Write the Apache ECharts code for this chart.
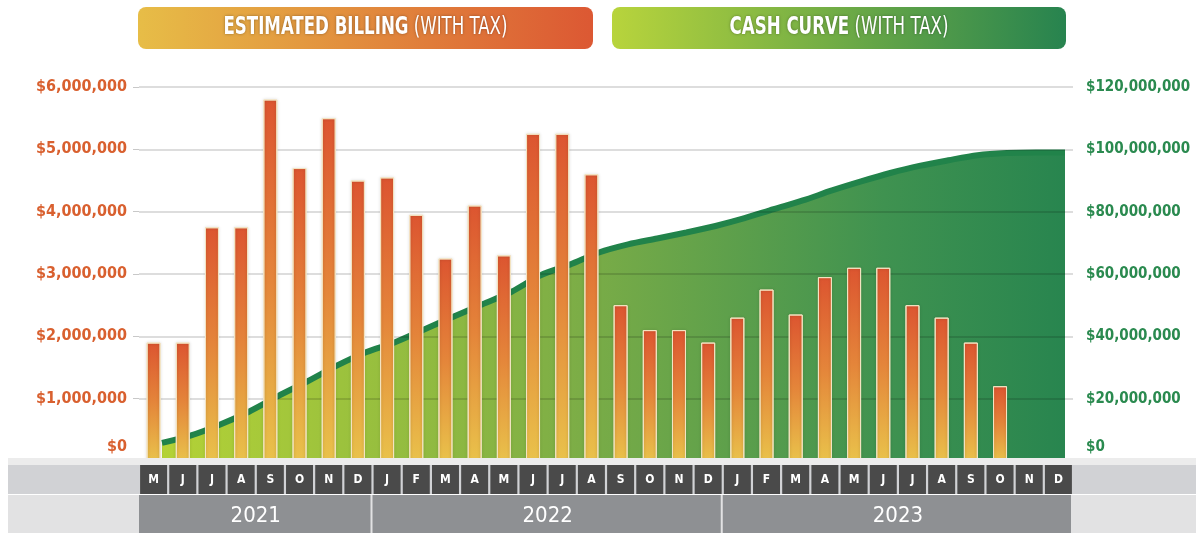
<!DOCTYPE html>
<html>
<head>
<meta charset="utf-8">
<title>Estimated billing and cash curve</title>
<script src="https://cdn.jsdelivr.net/npm/echarts@6/dist/echarts.min.js"></script>
<style>
html, body { margin: 0; padding: 0; background: #fff; }
#chart { width: 1196px; height: 533px; }
</style>
</head>
<body>
<div id="chart"></div>
<script>
// month letters, May 2021 .. Dec 2023
var months = ['M', 'J', 'J', 'A', 'S', 'O', 'N', 'D',
  'J', 'F', 'M', 'A', 'M', 'J', 'J', 'A', 'S', 'O', 'N', 'D',
  'J', 'F', 'M', 'A', 'M', 'J', 'J', 'A', 'S', 'O', 'N', 'D'];
var years = ['2021', '2022', '2023'];
var monthsInYear = [8, 12, 12];

// estimated billing (with tax), $
var billing = [1900000, 1900000, 3750000, 3750000, 5800000, 4700000, 5500000, 4500000,
  4550000, 3950000, 3250000, 4100000, 3300000, 5250000, 5250000, 4600000, 2500000, 2100000, 2100000, 1900000,
  2300000, 2750000, 2350000, 2950000, 3100000, 3100000, 2500000, 2300000, 1900000, 1200000, null, null];

// cash curve (with tax), cumulative $
var cash = [5800000, 8200000, 11700000, 15900000, 20900000, 25600000, 30600000, 34900000,
  38100000, 42200000, 46300000, 50300000, 54300000, 59600000, 63000000, 66900000, 69500000, 71400000, 73300000, 75400000,
  77900000, 80800000, 83600000, 86800000, 89700000, 92400000, 94700000, 96500000, 98100000, 98800000, 99000000, 99000000];

var billingMax = 6000000, billingStep = 1000000;
var cashMax = 120000000, cashStep = 20000000;

var FONT = '"DejaVu Sans Condensed", "Liberation Sans Narrow", "Roboto", sans-serif';
var ORANGE = '#d9602f', GREEN = '#2a8a4f';

var mychart = echarts.init(document.getElementById('chart'));

function money(v) {
  return '$' + echarts.format.addCommas(v);
}

var option = {
  animation: false,
  grid: [
    { left: 139, right: 123, top: 87, bottom: 72 },
    { left: 162, right: 131, top: 87, bottom: 72 }
  ],
  xAxis: [
    {
      type: 'category',
      gridIndex: 0,
      data: months,
      z: 5,
      axisLine: { show: false },
      axisTick: { show: false },
      axisLabel: {
        interval: 0,
        margin: 4,
        width: 27,
        height: 29,
        lineHeight: 29,
        align: 'center',
        backgroundColor: '#4a4a4a',
        color: '#fff',
        fontFamily: FONT,
        fontWeight: 'bold',
        fontSize: 12
      }
    },
    {
      type: 'category',
      gridIndex: 1,
      data: months,
      boundaryGap: false,
      show: false
    }
  ],
  yAxis: [
    {
      type: 'value',
      gridIndex: 0,
      position: 'left',
      min: 0,
      max: billingMax,
      interval: billingStep,
      z: 2,
      axisLine: { show: false },
      axisTick: { show: true, length: 6, lineStyle: { color: '#c8c8c8' } },
      splitLine: { lineStyle: { color: 'rgba(0,0,0,0.18)', width: 1.5 } },
      axisLabel: {
        margin: 12,
        color: ORANGE,
        fontFamily: FONT,
        fontWeight: 'bold',
        fontSize: 16,
        formatter: function (v) {
          return v === 0 ? '{z|$0}' : money(v);
        },
        rich: {
          z: { padding: [0, 0, 28, 0], color: ORANGE, fontFamily: FONT, fontWeight: 'bold', fontSize: 16 }
        }
      }
    },
    {
      type: 'value',
      gridIndex: 0,
      position: 'right',
      min: 0,
      max: cashMax,
      interval: cashStep,
      axisLine: { show: false },
      axisTick: { show: false },
      splitLine: { show: false },
      axisLabel: {
        margin: 13,
        color: GREEN,
        fontFamily: FONT,
        fontWeight: 'bold',
        fontSize: 15,
        formatter: function (v) {
          return v === 0 ? '{z|$0}' : money(v);
        },
        rich: {
          z: { padding: [0, 0, 28, 0], color: GREEN, fontFamily: FONT, fontWeight: 'bold', fontSize: 15 }
        }
      }
    },
    {
      type: 'value',
      gridIndex: 1,
      min: 0,
      max: cashMax,
      show: false
    }
  ],
  series: [
    {
      name: 'Cash curve (with tax)',
      type: 'line',
      xAxisIndex: 1,
      yAxisIndex: 2,
      data: cash,
      smooth: 0.3,
      symbol: 'none',
      z: 1,
      lineStyle: { width: 6, color: '#21834a' },
      areaStyle: {
        opacity: 1,
        color: new echarts.graphic.LinearGradient(0, 0, 1, 0, [
          { offset: 0, color: '#b4d236' },
          { offset: 0.45, color: '#7eae46' },
          { offset: 0.8, color: '#3f9250' },
          { offset: 1, color: '#28854f' }
        ])
      }
    },
    {
      name: 'Estimated billing (with tax)',
      type: 'bar',
      xAxisIndex: 0,
      yAxisIndex: 0,
      data: billing,
      barWidth: 14,
      z: 3,
      itemStyle: {
        borderColor: '#f4e4c2',
        borderWidth: 1,
        shadowColor: 'rgba(0,0,0,0.18)',
        shadowBlur: 3,
        color: new echarts.graphic.LinearGradient(0, 0, 0, 1, [
          { offset: 0, color: '#dc5530' },
          { offset: 0.5, color: '#e4853a' },
          { offset: 1, color: '#e9c24b' }
        ])
      }
    }
  ]
};
mychart.setOption(option);

// header banners + year strip, placed from the category axis
var ctx = document.createElement('canvas').getContext('2d');
function textW(t, font) {
  ctx.font = font;
  return ctx.measureText(t).width;
}
function banner(x, w, c0, c1, bold, rest, textWidth) {
  var fb = 'bold 24px ' + FONT, fr = '24px ' + FONT;
  var natural = textW(bold, fb) + textW(' ' + rest, fr);
  return [
    {
      type: 'rect',
      shape: { x: x, y: 7, width: w, height: 42, r: 8 },
      style: {
        fill: new echarts.graphic.LinearGradient(0, 0, 1, 0, [
          { offset: 0, color: c0 },
          { offset: 1, color: c1 }
        ])
      },
      z: 10
    },
    {
      type: 'text',
      x: x + w / 2,
      y: 28,
      scaleX: textWidth / natural,
      z: 11,
      style: {
        text: '{b|' + bold + '}{r| ' + rest + '}',
        x: 0,
        y: 0,
        align: 'center',
        verticalAlign: 'middle',
        fill: '#fff',
        textShadowColor: 'rgba(0,0,0,0.35)',
        textShadowBlur: 3,
        rich: {
          b: { fontFamily: FONT, fontWeight: 'bold', fontSize: 24, fill: '#fff' },
          r: { fontFamily: FONT, fontWeight: 'normal', fontSize: 24, fill: '#fff' }
        }
      }
    }
  ];
}

var x0 = mychart.convertToPixel({ xAxisIndex: 0 }, 0);
var band = mychart.convertToPixel({ xAxisIndex: 0 }, 1) - x0;
var graphics = [
  { type: 'rect', shape: { x: 8, y: 458, width: 1188, height: 7 }, style: { fill: '#ececec' }, z: 10 },
  { type: 'rect', shape: { x: 8, y: 465, width: 1188, height: 29 }, style: { fill: '#d1d2d5' }, z: 1 },
  { type: 'rect', shape: { x: 8, y: 495, width: 1188, height: 38 }, style: { fill: '#e2e2e3' }, z: 1 }
];
var start = 0;
years.forEach(function (yr, i) {
  var left = x0 - band / 2 + start * band;
  var w = monthsInYear[i] * band;
  graphics.push({
    type: 'rect',
    shape: { x: left, y: 495, width: w - 2, height: 38 },
    style: { fill: '#8e9093' },
    z: 2
  });
  graphics.push({
    type: 'text',
    z: 3,
    style: {
      text: yr,
      x: left + w / 2,
      y: 516,
      align: 'center',
      verticalAlign: 'middle',
      fill: '#fff',
      font: '22px ' + FONT
    }
  });
  start += monthsInYear[i];
});
graphics = graphics.concat(
  banner(138, 455, '#e7bd47', '#dc5833', 'ESTIMATED BILLING', '(WITH TAX)', 284),
  banner(612, 454, '#b8d43c', '#27834f', 'CASH CURVE', '(WITH TAX)', 219)
);
mychart.setOption({ graphic: graphics });
</script>
</body>
</html>
